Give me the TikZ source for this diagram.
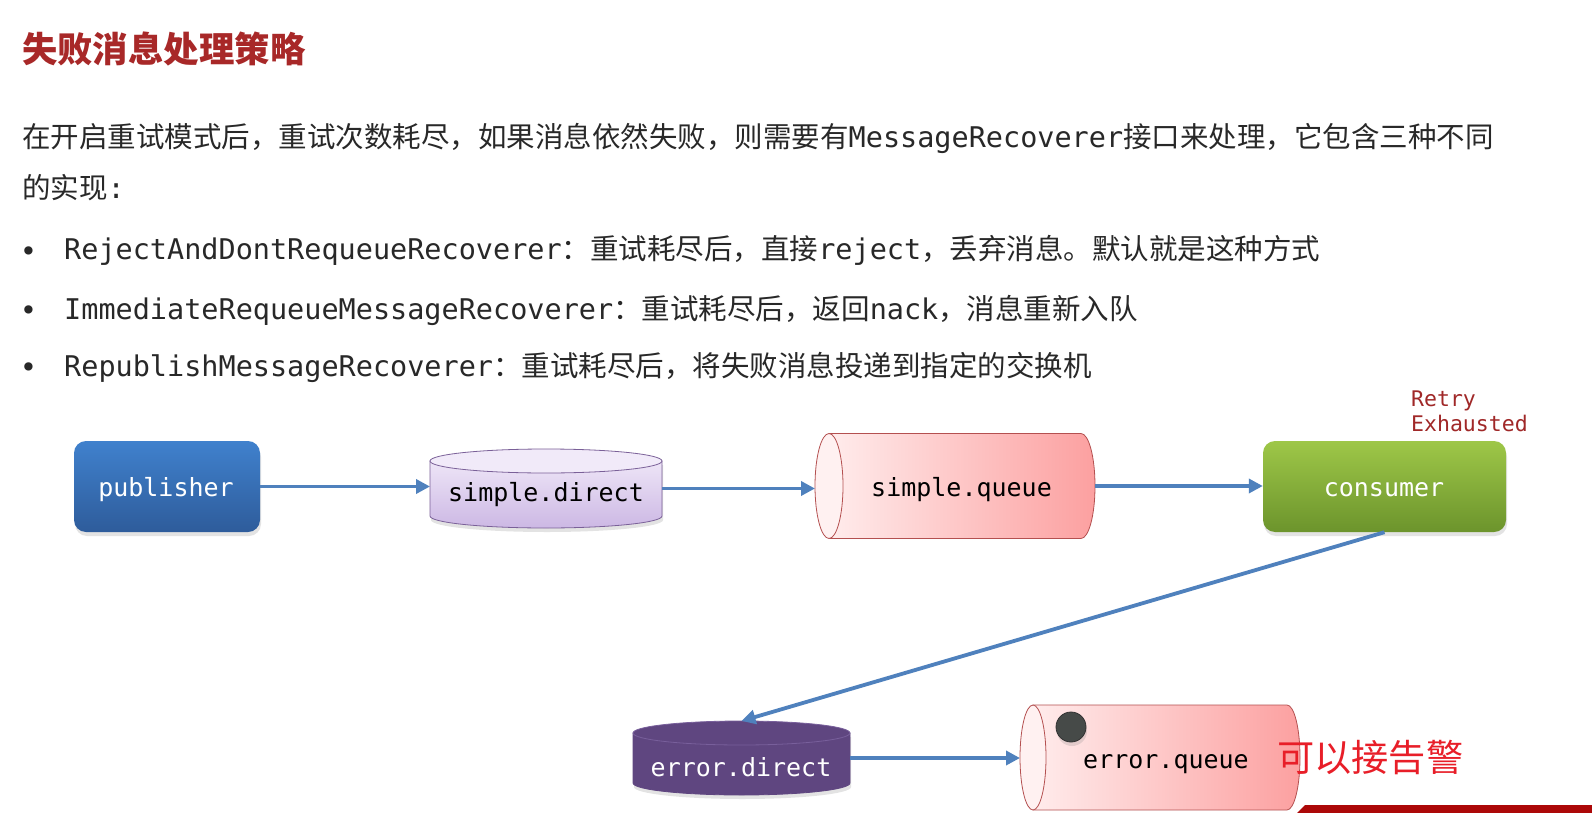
\documentclass[tikz,border=0pt]{standalone}
\usepackage{fontspec}
\setmainfont{Noto Sans CJK SC}
\newfontfamily\cjk{Noto Sans CJK SC}
\newfontfamily\mono{DejaVu Sans Mono}
\newfontfamily\dvsans{DejaVu Sans}
\usetikzlibrary{arrows.meta,shadows}
\definecolor{titlered}{RGB}{168,40,40}
\definecolor{bodytext}{RGB}{40,40,40}
\definecolor{arrowblue}{RGB}{79,129,189}
\definecolor{pubtop}{RGB}{64,129,205}
\definecolor{pubbot}{RGB}{46,92,155}
\definecolor{contop}{RGB}{158,199,72}
\definecolor{conbot}{RGB}{108,148,44}
\definecolor{sdtop}{RGB}{238,229,247}
\definecolor{sdbot}{RGB}{204,184,228}
\definecolor{sdcap}{RGB}{241,234,249}
\definecolor{sdline}{RGB}{122,96,152}
\definecolor{qleft}{RGB}{255,236,236}
\definecolor{qright}{RGB}{252,160,160}
\definecolor{qcap}{RGB}{255,241,241}
\definecolor{qline}{RGB}{180,80,80}
\definecolor{edfill}{RGB}{95,70,128}
\definecolor{edline}{RGB}{120,95,155}
\definecolor{retryred}{RGB}{160,40,40}
\definecolor{alertred}{RGB}{232,30,40}
\definecolor{barred}{RGB}{172,8,8}
\definecolor{dotgray}{RGB}{70,74,72}
\newcommand\lat[1]{{\mono #1}}
\tikzset{
  bodyfont/.style={inner sep=0pt, text=bodytext, font=\cjk\fontsize{28.5}{34}\selectfont},
  bulletfont/.style={inner sep=0pt, text=bodytext, font=\dvsans\fontsize{28.5}{34}\selectfont},
  diagfont/.style={inner sep=0pt, font=\mono\fontsize{25}{30}\selectfont},
  flowarrow/.style={draw=arrowblue, line width=3.8pt, -{Triangle[length=14pt,width=14pt]}},
  anchorbox/.style={inner sep=0pt, outer sep=0pt, draw=none},
  softshadow/.style={drop shadow={opacity=0.22, shadow xshift=1pt, shadow yshift=-4pt}},
}
\begin{document}
\begin{tikzpicture}[x=1pt,y=-1pt]
\useasboundingbox[fill=white] (0,0) rectangle (1592,813);

% ---- text ----
\node[anchor=base west, inner sep=0pt, text=titlered, font=\cjk\bfseries\fontsize{35.4}{40}\selectfont] (title) at (22,62.5) {失败消息处理策略};
\node[anchor=base west, bodyfont] (p1) at (22,147.8) {在开启重试模式后，重试次数耗尽，如果消息依然失败，则需要有\lat{MessageRecoverer}接口来处理，它包含三种不同};
\node[anchor=base west, bodyfont] (p2) at (22,198.8) {的实现\lat{:}};
\node[anchor=center, bulletfont] (b1) at (28.5,254) {•};
\node[anchor=base west, bodyfont] (t1) at (64,259.8) {\lat{RejectAndDontRequeueRecoverer}：重试耗尽后，直接\lat{reject}，丢弃消息。默认就是这种方式};
\node[anchor=center, bulletfont] (b2) at (28.5,313.5) {•};
\node[anchor=base west, bodyfont] (t2) at (64,319.3) {\lat{ImmediateRequeueMessageRecoverer}：重试耗尽后，返回\lat{nack}，消息重新入队};
\node[anchor=center, bulletfont] (b3) at (28.5,370.5) {•};
\node[anchor=base west, bodyfont] (t3) at (64,376.3) {\lat{RepublishMessageRecoverer}：重试耗尽后，将失败消息投递到指定的交换机};

% ---- publisher ----
\node[anchor=center, minimum width=186pt, minimum height=91pt, inner sep=0pt, rounded corners=12pt,
      top color=pubtop, bottom color=pubbot, softshadow] (pub) at (167,486.5) {};
\node[diagfont, text=white] (publabel) at (166,490) {publisher};

% ---- consumer ----
\node[anchor=center, minimum width=243pt, minimum height=91pt, inner sep=0pt, rounded corners=12pt,
      top color=contop, bottom color=conbot, softshadow] (con) at (1384.5,486.5) {};
\node[diagfont, text=white] (conlabel) at (1384,490) {consumer};
\node[anchor=north west, inner sep=0pt, align=left, text=retryred, font=\mono\fontsize{21.5}{25}\selectfont] (retry) at (1411,391) {Retry\\Exhausted};

% ---- simple.direct (vertical cylinder) ----
\node[anchorbox, minimum width=232pt, minimum height=79pt] (sd) at (546,488.5) {};
\path[top color=sdtop, bottom color=sdbot, draw=sdline, line width=0.8pt, softshadow]
  (430,461) -- (430,516) arc[start angle=180, end angle=0, x radius=116, y radius=12] -- (662,461) -- cycle;
\draw[fill=sdcap, draw=sdline, line width=0.8pt] (546,461) ellipse[x radius=116, y radius=12];
\node[diagfont, text=black] (sdlabel) at (546,495) {simple.direct};

% ---- simple.queue (horizontal cylinder) ----
\node[anchorbox, minimum width=280pt, minimum height=105pt] (sq) at (955,486) {};
\path[left color=qleft, right color=qright, draw=qline, line width=0.8pt]
  (829,433.5) -- (1081,433.5) arc[start angle=-90, end angle=90, x radius=14, y radius=52.5] -- (829,538.5) -- cycle;
\draw[fill=qcap, draw=qline, line width=0.8pt] (829,486) ellipse[x radius=14, y radius=52.5];
\node[diagfont, text=black] (sqlabel) at (961.5,489.5) {simple.queue};

% ---- error.direct (vertical cylinder) ----
\node[anchorbox, minimum width=217pt, minimum height=74pt] (ed) at (741.5,758) {};
\path[fill=edfill, draw=edfill, line width=0.8pt, softshadow]
  (633,733) -- (633,783) arc[start angle=180, end angle=0, x radius=108.5, y radius=12] -- (850,733) -- cycle;
\draw[fill=edfill, draw=edline, line width=0.8pt] (741.5,733) ellipse[x radius=108.5, y radius=12];
\node[diagfont, text=white] (edlabel) at (741,767) {error.direct};

% ---- error.queue (horizontal cylinder) ----
\node[anchorbox, minimum width=280pt, minimum height=105pt] (eq) at (1160,757.5) {};
\path[left color=qleft, right color=qright, draw=qline, line width=0.8pt]
  (1033,705) -- (1287,705) arc[start angle=-90, end angle=90, x radius=13, y radius=52.5] -- (1033,810) -- cycle;
\draw[fill=qcap, draw=qline, line width=0.8pt] (1033,757.5) ellipse[x radius=13, y radius=52.5];
\node[circle, fill=dotgray, draw=black!80, line width=0.8pt, minimum size=30pt, inner sep=0pt, softshadow] (dot) at (1071,727) {};
\node[diagfont, text=black] (eqlabel) at (1166,764.5) {error.queue};

% ---- alert text ----
\node[anchor=base west, inner sep=0pt, text=alertred, font=\cjk\fontsize{37.2}{44}\selectfont] (alert) at (1277,771.5) {可以接告警};

% ---- bottom bar ----
\fill[barred] (1297,813) -- (1305,805) -- (1592,805) -- (1592,813) -- cycle;

% ---- connectors ----
\draw[flowarrow] (pub.east) -- (pub.east -| sd.west);
\draw[flowarrow] (sd.east) -- (sd.east -| sq.west);
\draw[flowarrow] (sq.east) -- (sq.east -| con.west);
\draw[flowarrow] (con.south) -- (ed.north);
\draw[flowarrow] (ed.east) -- (ed.east -| eq.west);
\end{tikzpicture}
\end{document}
